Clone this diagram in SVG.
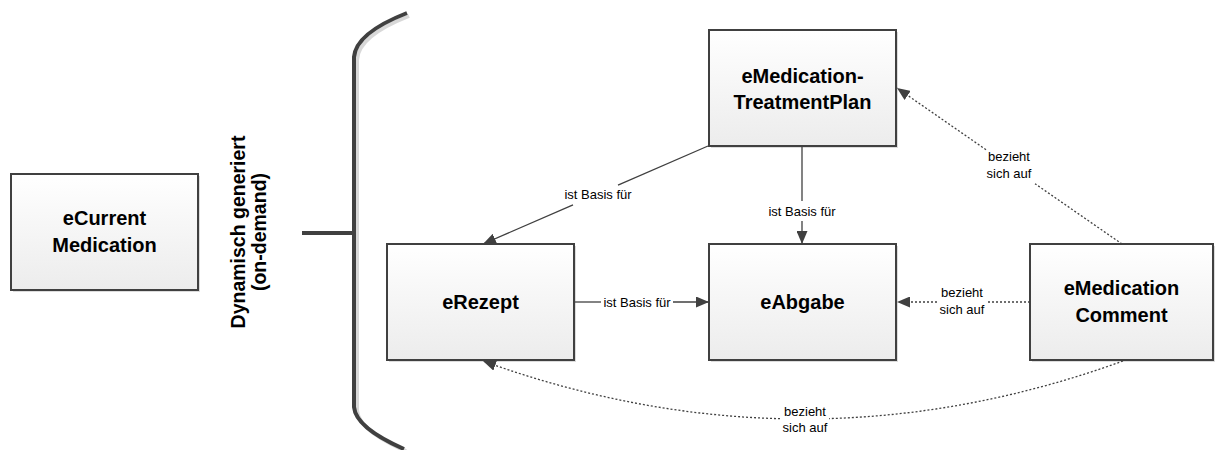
<svg xmlns="http://www.w3.org/2000/svg" width="1215" height="450" viewBox="0 0 1215 450">
<defs>
<linearGradient id="boxfill" x1="0" y1="0" x2="0" y2="1">
<stop offset="0" stop-color="#ffffff"/>
<stop offset="1" stop-color="#ececec"/>
</linearGradient>
<marker id="arrow" markerUnits="userSpaceOnUse" markerWidth="14" markerHeight="11" refX="13" refY="5.5" orient="auto">
<path d="M0,0 L13,5.5 L0,11 Z" fill="#404040" stroke="none"/>
</marker>
<style>
.box{fill:url(#boxfill);stroke:#404040;stroke-width:2}
.shadow{fill:#dcdcdc;stroke:none}
.nlabel{font-family:"Liberation Sans",Arial,sans-serif;font-weight:bold;font-size:20px;fill:#000;text-anchor:middle}
.elabel{font-family:"Liberation Sans",Arial,sans-serif;font-size:13px;fill:#000;text-anchor:middle}
.solid{fill:none;stroke:#404040;stroke-width:1.3}
.dotted{fill:none;stroke:#404040;stroke-width:1.3;stroke-dasharray:2,2}
.brace{fill:none;stroke:#404040;stroke-width:4}
.braceshadow{fill:none;stroke:#d8d8d8;stroke-width:4}
</style>
</defs>
<rect width="1215" height="450" fill="#ffffff"/>

<g id="bracket">
<path class="braceshadow" d="M409,16 Q358,36 357,60 L357,410 Q358,430 406,451"/>
<path class="brace" d="M407,13 Q356,33 354,57 L354,407 Q356,428 404,449"/>
<line class="brace" x1="302" y1="233" x2="354" y2="233"/>
<text class="nlabel" transform="translate(245,232) rotate(-90)" x="0" y="0" style="font-size:19.5px">Dynamisch generiert</text>
<text class="nlabel" transform="translate(266,232) rotate(-90)" x="0" y="0" style="font-size:19.5px">(on-demand)</text>
</g>

<g id="eCurrentMedication">
<rect class="shadow" x="13" y="176" width="187" height="116"/>
<rect class="box" x="11" y="174" width="187" height="116"/>
<text class="nlabel" x="104.5" y="225">eCurrent</text>
<text class="nlabel" x="104.5" y="252">Medication</text>
</g>

<g id="eMedicationTreatmentPlan">
<rect class="shadow" x="711" y="32" width="187" height="116"/>
<rect class="box" x="709" y="30" width="187" height="116"/>
<text class="nlabel" x="802.5" y="83">eMedication-</text>
<text class="nlabel" x="802.5" y="109">TreatmentPlan</text>
</g>

<g id="eRezept">
<rect class="shadow" x="389" y="246" width="187" height="116"/>
<rect class="box" x="387" y="244" width="187" height="116"/>
<text class="nlabel" x="480.5" y="309">eRezept</text>
</g>

<g id="eAbgabe">
<rect class="shadow" x="711" y="246" width="187" height="116"/>
<rect class="box" x="709" y="244" width="187" height="116"/>
<text class="nlabel" x="802.5" y="309">eAbgabe</text>
</g>

<g id="eMedicationComment">
<rect class="shadow" x="1032" y="246" width="183" height="116"/>
<rect class="box" x="1030" y="244" width="183" height="116"/>
<text class="nlabel" x="1121.5" y="295">eMedication</text>
<text class="nlabel" x="1121.5" y="322">Comment</text>
</g>

<g id="connectors">
<!-- TreatmentPlan -> eRezept -->
<line class="solid" x1="708" y1="146" x2="618" y2="185.2"/>
<line class="solid" x1="573" y1="204.8" x2="483" y2="244" marker-end="url(#arrow)"/>
<text class="elabel" x="598" y="199">ist Basis für</text>
<!-- TreatmentPlan -> eAbgabe -->
<line class="solid" x1="802" y1="147" x2="802" y2="201"/>
<line class="solid" x1="802" y1="221" x2="802" y2="244" marker-end="url(#arrow)"/>
<text class="elabel" x="802" y="216">ist Basis für</text>
<!-- eRezept -> eAbgabe -->
<line class="solid" x1="575" y1="302" x2="601" y2="302"/>
<line class="solid" x1="673" y1="302" x2="709" y2="302" marker-end="url(#arrow)"/>
<text class="elabel" x="637" y="307">ist Basis für</text>
<!-- Comment -> eAbgabe -->
<line class="dotted" x1="1030" y1="302" x2="986" y2="302"/>
<line class="dotted" x1="937" y1="302" x2="897" y2="302" marker-end="url(#arrow)"/>
<text class="elabel" x="962" y="297">bezieht</text>
<text class="elabel" x="962" y="314">sich auf</text>
<!-- Comment -> TreatmentPlan -->
<line class="dotted" x1="1122" y1="244" x2="1035" y2="183.7"/>
<line class="dotted" x1="986" y1="149.7" x2="897" y2="88" marker-end="url(#arrow)"/>
<text class="elabel" x="1009" y="161">bezieht</text>
<text class="elabel" x="1009" y="178">sich auf</text>
<!-- Comment -> eRezept (curve) -->
<path class="dotted" d="M1123,361 Q976.1,414.2 829,418.6"/>
<path class="dotted" d="M780,418.7 Q631.5,414.8 483,361" marker-end="url(#arrow)"/>
<text class="elabel" x="805" y="416">bezieht</text>
<text class="elabel" x="805" y="432">sich auf</text>
</g>
</svg>
